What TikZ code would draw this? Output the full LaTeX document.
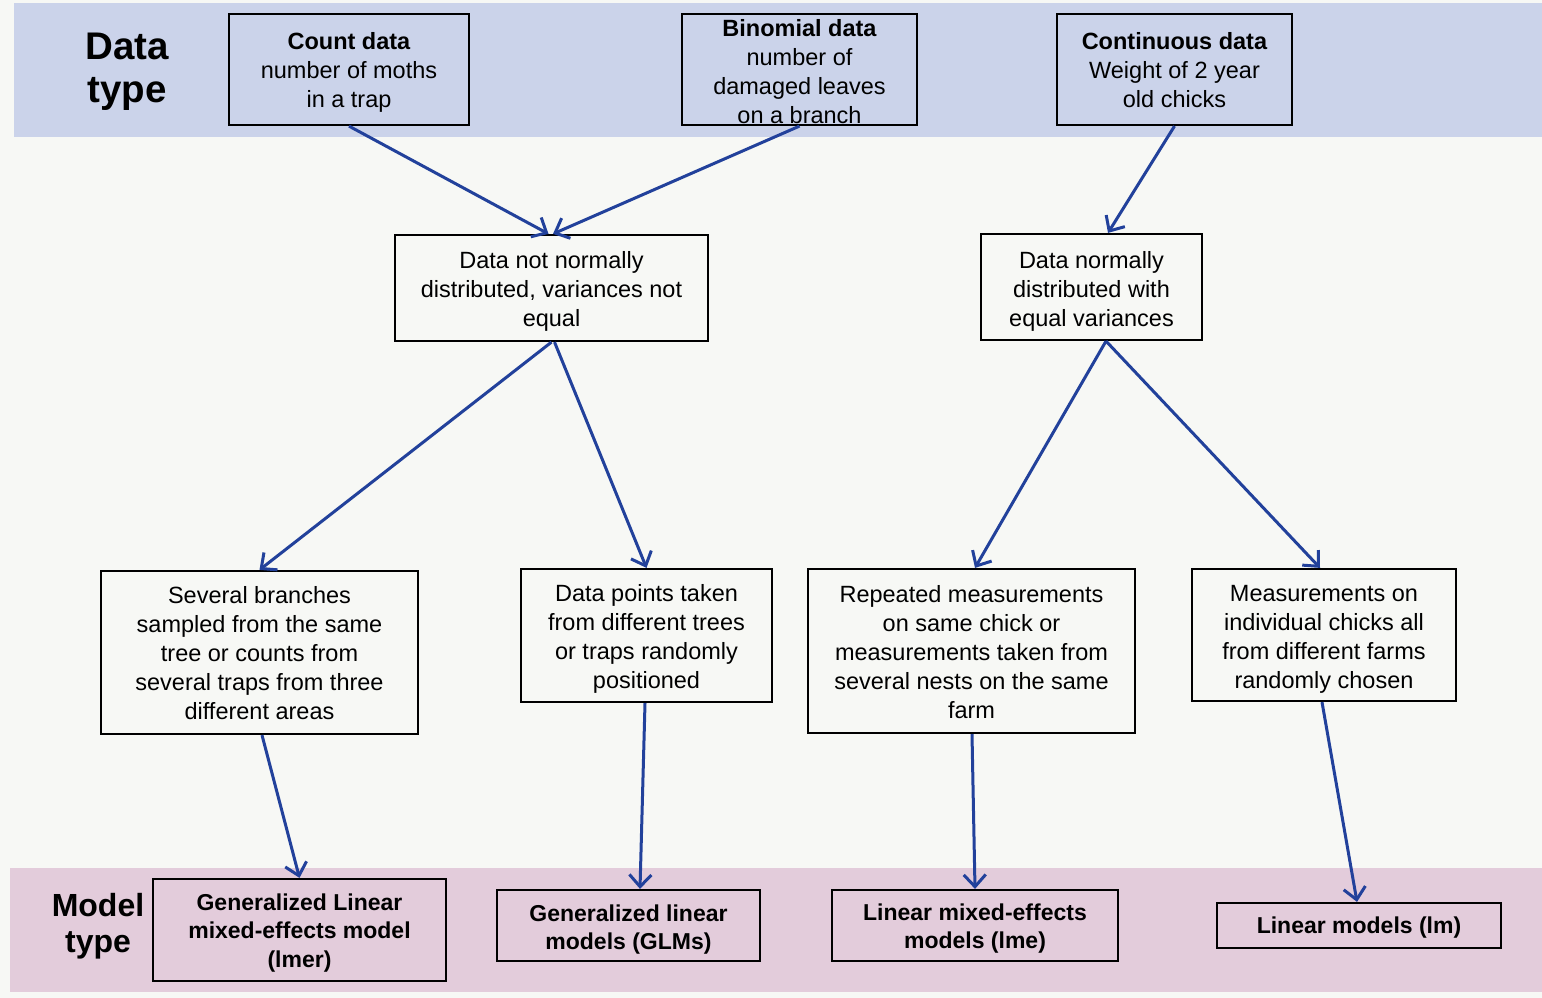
\documentclass[tikz,border=0pt]{standalone}
\usepackage{fontspec}
\setmainfont{Liberation Sans}
\usetikzlibrary{arrows.meta}

\definecolor{paper}{HTML}{F7F8F5}
\definecolor{databand}{HTML}{CBD3EA}
\definecolor{modelband}{HTML}{E3CCDB}
\definecolor{flowblue}{HTML}{22419B}

\tikzset{
  stepbox/.style={draw=black, line width=2.2pt, inner sep=0pt},
  steptext/.style={inner sep=0pt, align=center, font=\fontsize{23.5}{29}\selectfont},
  modeltext/.style={steptext, font=\bfseries\fontsize{23}{28.5}\selectfont},
  bandlabel/.style={inner sep=0pt, align=center},
  flow/.style={draw=flowblue, line width=3pt,
    -{Straight Barb[length=12pt,width=22pt]}},
}

% box (#1) centred at (#2,#3), #4 wide and #5 high; its text node (#1-t)
% sits #6 below the centre, styled #7
\newcommand\flowbox[8]{%
  \node[stepbox, minimum width=#4, minimum height=#5] (#1) at (#2,#3) {};
  \node[#7] (#1-t) at (#2,#3+#6) {#8};
}

\begin{document}
\begin{tikzpicture}[x=1pt, y=-1pt]
  \useasboundingbox (0,0) rectangle (1542,998);
  \fill[paper] (0,0) rectangle (1542,998);

  % coloured bands
  \fill[databand] (14,3) rectangle (1542,137);
  \fill[modelband] (10,868) rectangle (1542,992);

  % band labels
  \node[bandlabel, font=\bfseries\fontsize{38.5}{43}\selectfont] (dtype) at (127,72) {Data\\type};
  \node[bandlabel, font=\bfseries\fontsize{32}{36}\selectfont] (mtype) at (98,926) {Model\\type};

  % data types
  \flowbox{count}{349}{69.5}{240}{111}{3}{steptext}
    {\textbf{Count data}\\number of moths\\in a trap}
  \flowbox{bin}{799.5}{69.5}{235}{111}{2.5}{steptext}
    {\textbf{Binomial data}\\number of\\damaged leaves\\on a branch}
  \flowbox{cont}{1174.5}{69.5}{235}{111}{1}{steptext}
    {\textbf{Continuous data}\\Weight of 2 year\\old chicks}

  % distributions
  \flowbox{notnorm}{551.5}{288}{313}{106}{3}{steptext}
    {Data not normally\\distributed, variances not\\equal}
  \flowbox{norm}{1091.5}{287}{221}{106}{4}{steptext}
    {Data normally\\distributed with\\equal variances}

  % sampling designs
  \flowbox{several}{259.5}{652.5}{317}{163}{1}{steptext}
    {Several branches\\sampled from the same\\tree or counts from\\several traps from three\\different areas}
  \flowbox{points}{646.5}{635.5}{251}{133}{3.5}{steptext}
    {Data points taken\\from different trees\\or traps randomly\\positioned}
  \flowbox{repeated}{971.5}{651}{327}{164}{1.5}{steptext}
    {Repeated measurements\\on same chick or\\measurements taken from\\several nests on the same\\farm}
  \flowbox{measure}{1324}{635}{264}{132}{4}{steptext}
    {Measurements on\\individual chicks all\\from different farms\\randomly chosen}

  % model types
  \flowbox{glmm}{299.5}{930}{293}{102}{3}{modeltext}
    {Generalized Linear\\mixed-effects model\\(lmer)}
  \flowbox{glms}{628.5}{925.5}{263}{71}{4}{modeltext}
    {Generalized linear\\models (GLMs)}
  \flowbox{lme}{975}{925.5}{286}{71}{3}{modeltext}
    {Linear mixed-effects\\models (lme)}
  \flowbox{lm}{1359}{925.5}{284}{45}{2}{modeltext}
    {Linear models (lm)}

  % connectors
  \draw[flow] (count.south) -- ([xshift=-3]notnorm.north);
  \draw[flow] (bin.south) -- ([xshift=1.5]notnorm.north);
  \draw[flow] (cont.south) -- ([xshift=16.5]norm.north);

  \draw[flow] (notnorm.south) -- (several.north);
  \draw[flow] ([xshift=3]notnorm.south) -- (points.north);
  \draw[flow] ([xshift=14.5]norm.south) -- ([xshift=3.5]repeated.north);
  \draw[flow] ([xshift=14.5]norm.south) -- ([xshift=-4]measure.north);

  \draw[flow] ([xshift=2.5]several.south) -- (glmm.north);
  \draw[flow] ([xshift=-1.5]points.south) -- ([xshift=11.5]glms.north);
  \draw[flow] ([xshift=0.5]repeated.south) -- (lme.north);
  \draw[flow] ([xshift=-2]measure.south) -- ([xshift=-2]lm.north);
\end{tikzpicture}
\end{document}
